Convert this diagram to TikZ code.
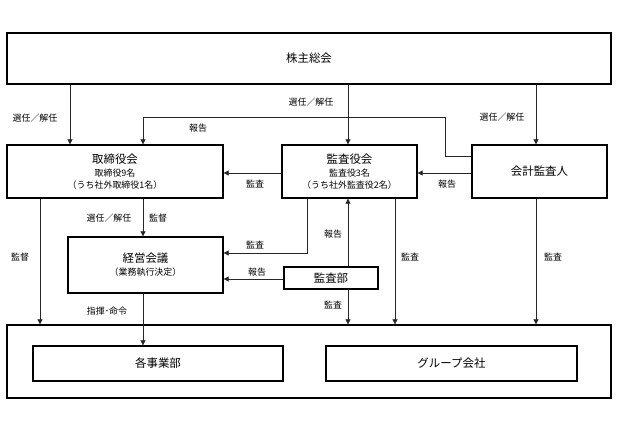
\documentclass[tikz,border=0pt]{standalone}
\usepackage{fontspec}
\setmainfont{Noto Sans CJK JP}
\usetikzlibrary{arrows.meta}
\begin{document}
\begin{tikzpicture}[x=1bp,y=-1bp,
  box/.style={draw=black,line width=1.3bp,rectangle,inner sep=0pt,align=center},
  big/.style={font=\fontsize{11.5}{13}\selectfont},
  lab/.style={font=\fontsize{9}{10}\selectfont,inner sep=0pt},
  conn/.style={draw=black!85,line width=0.7bp},
  arr/.style={conn,-{Triangle[length=5bp,width=5bp]}}]
\fill[white] (0,0) rectangle (633,432);
\useasboundingbox (0,0) rectangle (633,432);
% boxes
\node[box,big,minimum width=604bp,minimum height=51bp] (gm) at (309,58.5) {株主総会};
\node[box,minimum width=216bp,minimum height=53bp] (bod) at (115,171.5)
  {{\fontsize{11.5}{13}\selectfont 取締役会}\\[1bp]{\fontsize{9}{11}\selectfont 取締役9名}\\{\fontsize{9}{11}\selectfont （うち社外取締役1名）}};
\node[box,minimum width=135bp,minimum height=53bp] (kan) at (349.5,171.5)
  {{\fontsize{11.5}{13}\selectfont 監査役会}\\[1bp]{\fontsize{9}{11}\selectfont 監査役3名}\\{\fontsize{9}{11}\selectfont （うち社外監査役2名）}};
\node[box,big,minimum width=135bp,minimum height=53bp] (aud) at (539.5,171.5) {会計監査人};
\node[box,minimum width=155bp,minimum height=56bp] (mgmt) at (145.5,265)
  {{\fontsize{11.5}{13}\selectfont 経営会議}\\[1bp]{\fontsize{9}{11}\selectfont （業務執行決定）}};
\node[box,big,minimum width=94bp,minimum height=22bp] (iad) at (331,278) {監査部};
\node[box,minimum width=604bp,minimum height=73bp] (cont) at (309,361.5) {};
\node[box,big,minimum width=250bp,minimum height=35bp] (div) at (158,363.5) {各事業部};
\node[box,big,minimum width=251bp,minimum height=35bp] (grp) at (451.5,363.5) {グループ会社};
% connectors
\draw[arr] (gm.south -| 70,0) -- (bod.north -| 70,0);
\node[lab] (l1) at (35,118) {選任／解任};
\draw[arr] (gm.south -| 348,0) -- (kan.north -| 348,0);
\node[lab] (l2) at (311,102) {選任／解任};
\draw[arr] (gm.south -| 536,0) -- (aud.north -| 536,0);
\node[lab] (l3) at (502,117) {選任／解任};
\coordinate (r1) at (445,156);
\coordinate (r2) at (445,117);
\coordinate (r3) at (143,117);
\draw[arr] (aud.west |- r1) -- (r1) -- (r2) -- (r3) -- (bod.north -| r3);
\node[lab] (l4) at (198,128) {報告};
\draw[arr] (kan.west |- 0,173) -- (bod.east |- 0,173);
\node[lab] (l5) at (255,184) {監査};
\draw[arr] (aud.west |- 0,173) -- (kan.east |- 0,173);
\node[lab] (l6) at (447,184) {報告};
\draw[arr] (bod.south -| 143,0) -- (mgmt.north -| 143,0);
\node[lab] (l7) at (109,218) {選任／解任};
\node[lab] (l8) at (158,218) {監督};
\draw[arr] (bod.south -| 40,0) -- (cont.north -| 40,0);
\node[lab] (l9) at (20,257) {監督};
\coordinate (k1) at (307,253);
\draw[arr] (kan.south -| k1) -- (k1) -- (mgmt.east |- k1);
\node[lab] (l10) at (255,245) {監査};
\draw[arr] (iad.west |- 0,279) -- (mgmt.east |- 0,279);
\node[lab] (l11) at (257,272) {報告};
\draw[arr] (iad.north -| 348,0) -- (kan.south -| 348,0);
\node[lab] (l12) at (333,234) {報告};
\draw[arr] (iad.south -| 348,0) -- (cont.north -| 348,0);
\node[lab] (l13) at (333,305) {監査};
\draw[arr] (kan.south -| 395,0) -- (cont.north -| 395,0);
\node[lab] (l14) at (410,257) {監査};
\draw[arr] (aud.south -| 536,0) -- (cont.north -| 536,0);
\node[lab] (l15) at (553,257) {監査};
\draw[arr] (mgmt.south -| 143,0) -- (div.north -| 143,0);
\node[lab] (l16) at (107,311) {指揮･命令};
\end{tikzpicture}
\end{document}
